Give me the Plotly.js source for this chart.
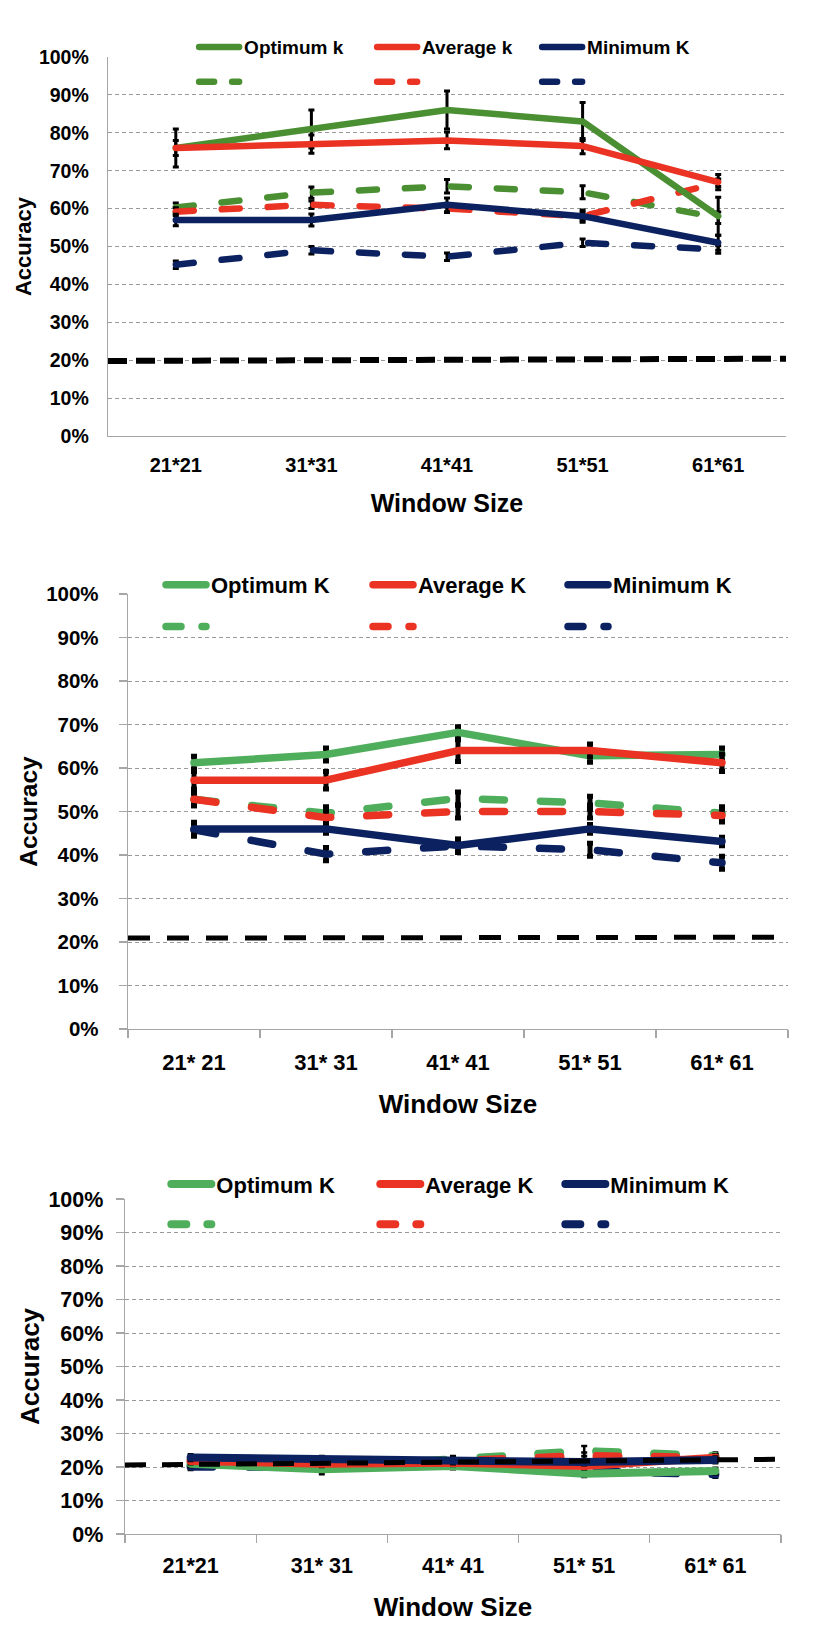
<!DOCTYPE html>
<html><head><meta charset="utf-8">
<script src="https://cdn.plot.ly/plotly-3.0.1.min.js"></script>
<style>
body{margin:0;background:#fff;}
#c1{width:840px;height:540px;}
#c2{width:840px;height:580px;}
#c3{width:840px;height:526px;}
.scatterlayer .js-line, .legendlines .js-line {stroke-linecap:round; stroke-linejoin:round;}
.x2y .scatterlayer .js-line {stroke-linecap:butt;}
#c1 .legend2 .legendlines .js-line {stroke-dasharray:15px,18px !important;}
#c2 .legend2 .legendlines .js-line, #c3 .legend2 .legendlines .js-line {stroke-dasharray:15px,21px !important;}
</style></head><body>
<div id="c1"></div><div id="c2"></div><div id="c3"></div>
<script>
// ---------- categories / tick labels ----------
const windowSizes1 = ['21*21', '31*31', '41*41', '51*51', '61*61'];
const windowSizes2 = ['21* 21', '31* 31', '41* 41', '51* 51', '61* 61'];
const windowSizes3 = ['21*21', '31* 31', '41* 41', '51* 51', '61* 61'];
const baselineEnds = ['start', 'end'];
const namesLower = ['Optimum k', 'Average k', 'Minimum K'];
const namesUpper = ['Optimum K', 'Average K', 'Minimum K'];

// ---------- chart 1 values (%) ----------
const c1Opt = [76, 81, 86, 83, 58];
const c1OptErr = [5, 5, 5, 5, 5];
const c1Avg = [76, 77, 78, 76.5, 67];
const c1AvgErr = [2, 2.4, 2.2, 2, 2];
const c1Min = [57, 57, 61, 58, 51];
const c1MinErr = [1.5, 1.6, 1.8, 1.6, 2];
const c1OptDash = [60.3, 64.2, 65.9, 64.3, 57.6];
const c1OptDashErr = [1.2, 1.5, 1.8, 1.7, 1.5];
const c1AvgDash = [59.2, 61, 60, 58, 66.8];
const c1AvgDashErr = [1, 1, 1, 1, 1];
const c1MinDash = [45.2, 49, 47.3, 51, 49.2];
const c1MinDashErr = [1, 1, 1, 1, 1];
const c1Base = [19.8, 20.4];

// ---------- chart 2 values (%) ----------
const c2Opt = [61.2, 63.1, 68.2, 62.8, 63.1];
const c2OptErr = [1.5, 1.5, 1.3, 1.5, 1.5];
const c2Avg = [57.2, 57.2, 64, 64, 61.2];
const c2AvgErr = [2, 2, 2.5, 1.5, 2];
const c2Min = [46, 46, 42.2, 46, 43.1];
const c2MinErr = [1.5, 1, 1.5, 1, 1];
const c2OptDash = [52.8, 49.6, 53, 52, 49.6];
const c2OptDashErr = [1.5, 1.5, 1.5, 1.5, 1.5];
const c2AvgDash = [52.8, 48.6, 50, 50, 49.1];
const c2AvgDashErr = [1.5, 1.5, 1.5, 1.5, 1.5];
const c2MinDash = [45.8, 40.2, 42.1, 41.2, 38.2];
const c2MinDashErr = [1.5, 1.5, 1.5, 1.5, 1.5];
const c2Base = [20.9, 21.1];

// ---------- chart 3 values (%) ----------
const c3Opt = [21, 19.3, 20.3, 18, 18.8];
const c3OptErr = [1, 1.5, 1, 1, 1];
const c3Avg = [21.8, 21, 21.3, 20.3, 22.8];
const c3AvgErr = [1, 1, 1, 1, 1];
const c3Min = [22.8, 22.3, 21.8, 21.5, 22.1];
const c3MinErr = [1, 1, 1, 1, 1];
const c3OptDash = [20.6, 20, 22.3, 24.8, 23.3];
const c3OptDashErr = [1, 1, 1, 1.5, 1];
const c3AvgDash = [21.8, 21.5, 21.8, 23.3, 22.8];
const c3AvgDashErr = [1, 1, 1, 1, 1];
const c3MinDash = [20.1, 20, 20.8, 18.8, 17.8];
const c3MinDashErr = [1, 1, 1, 1.5, 1];
const c3Base = [20.6, 22.3];

const RED = '#ea3323', NAVY = '#0c2260';
const FAM = '"Liberation Sans", Arial, sans-serif';

function buildChart(divId, cfg) {
  const colors = [cfg.green, RED, NAVY];
  const traces = [];
  cfg.dashed.forEach((s, i) => traces.push({
    type: 'scatter', mode: 'lines', x: cfg.cats, y: s[0], name: ' ',
    legend: 'legend2', legendwidth: cfg.legW[i], hoverinfo: 'skip',
    line: {color: colors[i], width: cfg.lw, dash: cfg.dash},
    error_y: {type: 'data', array: s[1], color: '#000', thickness: cfg.ebT, width: cfg.ebW}
  }));
  cfg.solid.forEach((s, i) => traces.push({
    type: 'scatter', mode: 'lines', x: cfg.cats, y: s[0], name: cfg.names[i],
    legend: 'legend', legendwidth: cfg.legW[i], hoverinfo: 'skip',
    line: {color: colors[i], width: cfg.lw},
    error_y: {type: 'data', array: s[1], color: '#000', thickness: cfg.ebT, width: cfg.ebW}
  }));
  traces.push({
    type: 'scatter', mode: 'lines', x: baselineEnds, y: cfg.base, xaxis: 'x2',
    showlegend: false, hoverinfo: 'skip',
    line: {color: '#000', width: cfg.baseW, dash: cfg.baseDash}
  });
  const f = (size) => ({family: FAM, color: '#000', weight: 'bold', size: size});
  const legendBase = {
    orientation: 'h', xanchor: 'left', yanchor: 'middle', x: cfg.legX,
    font: f(cfg.legFont), entrywidthmode: 'pixels',
    bgcolor: 'rgba(0,0,0,0)', traceorder: 'normal', itemwidth: 40
  };
  const layout = {
    width: 840, height: cfg.h,
    margin: {l: cfg.m[0], r: cfg.m[1], t: cfg.m[2], b: cfg.m[3], autoexpand: false},
    paper_bgcolor: '#fff', plot_bgcolor: '#fff', showlegend: true,
    xaxis: {
      type: 'category', range: [-0.5, 4.5], showline: true, linecolor: '#a6a6a6', linewidth: 1.3,
      showgrid: false, zeroline: false, ticks: cfg.ticks, tickson: 'boundaries', ticklen: 8,
      tickcolor: '#a6a6a6', tickwidth: 1.3, tickfont: f(cfg.xtf), ticklabelstandoff: cfg.xStand,
      title: {text: 'Window Size', font: f(cfg.titleFont), standoff: cfg.xTitleStand},
      automargin: false, fixedrange: true
    },
    xaxis2: {type: 'category', overlaying: 'x', range: [0, 1], visible: false, fixedrange: true},
    yaxis: {
      range: [0, 100], dtick: 10, ticksuffix: '%', showgrid: true, gridcolor: '#9a9a9a',
      griddash: '4px,3px', gridwidth: 1, showline: true, linecolor: '#a6a6a6', linewidth: 1.3,
      zeroline: false, ticks: cfg.ticks, ticklen: 8, tickcolor: '#a6a6a6', tickwidth: 1.3,
      tickfont: f(cfg.ytf), ticklabelstandoff: cfg.yStand,
      title: {text: 'Accuracy', font: f(cfg.yTitleFont), standoff: cfg.yTitleStand},
      automargin: false, fixedrange: true
    },
    legend: Object.assign({}, legendBase, {y: cfg.legY1}),
    legend2: Object.assign({}, legendBase, {y: cfg.legY2})
  };
  Plotly.newPlot(divId, traces, layout, {staticPlot: true});
}

buildChart('c1', {
  h: 540, m: [108, 54, 57, 104], cats: windowSizes1, names: namesLower, green: '#4a8f32',
  solid: [[c1Opt, c1OptErr], [c1Avg, c1AvgErr], [c1Min, c1MinErr]],
  dashed: [[c1OptDash, c1OptDashErr], [c1AvgDash, c1AvgDashErr], [c1MinDash, c1MinDashErr]],
  base: c1Base, lw: 6.5, dash: '18px,28px', ebT: 3, ebW: 3, baseW: 6, baseDash: '19px,9px',
  ticks: '', xtf: 20, ytf: 19.5, xStand: 11, yStand: 14, titleFont: 25, xTitleStand: 19,
  yTitleFont: 22, yTitleStand: 1,
  legX: 0.127, legY1: 1.026, legY2: 0.934, legFont: 19, legW: [123, 110, 110]
});

buildChart('c2', {
  h: 580, m: [128, 52, 54, 91], cats: windowSizes2, names: namesUpper, green: '#4fae5c',
  solid: [[c2Opt, c2OptErr], [c2Avg, c2AvgErr], [c2Min, c2MinErr]],
  dashed: [[c2OptDash, c2OptDashErr], [c2AvgDash, c2AvgDashErr], [c2MinDash, c2MinDashErr]],
  base: c2Base, lw: 7.5, dash: '22px,36px', ebT: 5, ebW: 3, baseW: 5, baseDash: '22px,17px',
  ticks: 'outside', xtf: 22, ytf: 20.5, xStand: 13, yStand: 16, titleFont: 26, xTitleStand: 21,
  yTitleFont: 24.5, yTitleStand: 1.5,
  legX: 0.05, legY1: 1.021, legY2: 0.925, legFont: 22, legW: [152, 140, 140]
});

buildChart('c3', {
  h: 526, m: [125, 59, 78.5, 112.4], cats: windowSizes3, names: namesUpper, green: '#4fae5c',
  solid: [[c3Opt, c3OptErr], [c3Avg, c3AvgErr], [c3Min, c3MinErr]],
  dashed: [[c3OptDash, c3OptDashErr], [c3AvgDash, c3AvgDashErr], [c3MinDash, c3MinDashErr]],
  base: c3Base, lw: 8, dash: '22px,36px', ebT: 2.5, ebW: 3, baseW: 5, baseDash: '21px,16px',
  ticks: 'outside', xtf: 21.5, ytf: 21.5, xStand: 12, yStand: 8, titleFont: 26, xTitleStand: 20,
  yTitleFont: 26, yTitleStand: 1,
  legX: 0.063, legY1: 1.044, legY2: 0.924, legFont: 22, legW: [154, 130, 130]
});
</script>
</body></html>
